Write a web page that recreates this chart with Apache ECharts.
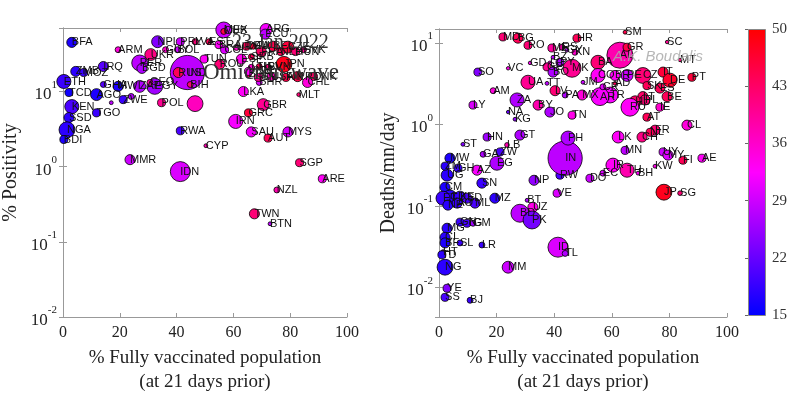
<!DOCTYPE html>
<html>
<head>
<meta charset="utf-8">
<script src="https://cdn.jsdelivr.net/npm/echarts@6/dist/echarts.min.js"></script>
<style>
html, body { margin: 0; background: #fff; }
#main { width: 811px; height: 399px; }
</style>
</head>
<body>
<div id="main"></div>
<script>
// left panel: test positivity vs vaccination
const posNames = ['BFA','ARM','IRQ','ZMB','MOZ','ETH','TCD','AGO','KEN','SSD','TGO','NGA','BDI','GHA','MWI','ZWE','','','ZAF','EGY',
  'POL','','PER','BGD','NPL','UKR','GUY','BOL','PRY','LVA','EST','IND','RUS','BIH','TUN','MEX','CUB','ARG','ECU','BRA',
  'COL','URY','DEU','ITA','FRA','BEL','NLD','CZE','HUN','SVK','ESP','SRB','HRV','SVN','LTU','JPN','PRT','DNK','CHL','BHR',
  'LKA','MLT','ROU','ISR','BGR','FIN','USA','VNM','GBR','GRC','IRN','SAU','MYS','AUT','CYP','RWA','MMR','IDN','SGP','ARE',
  'NZL','TWN','BTN','GEO'];
const posVax = [3.1,19.4,14.2,4.5,7.3,0.3,2.1,11.8,3.1,2.1,11.8,1.4,0.3,14.2,19.4,21.2,17,24,27,32.3,
  34.7,46.5,27,27.8,33.3,30.9,36.1,40.3,41.3,46.5,51.4,43.8,40.6,44.8,49.7,56.6,56.6,71.5,71.2,54.9,
  56.9,61.1,64.6,67,69.8,74,76.7,79.2,81.9,84.7,62.8,66.3,69.1,72.2,66.3,77.8,82.6,88.2,86.1,69.1,
  63.5,83,55.2,68.8,65.3,78.5,73.3,65.3,70.5,65.3,60.8,66.3,79.2,72.2,50.3,41.3,23.6,41.3,83.3,91.3,
  75.3,67.4,72.9,30.6];
const posRate = [45,36,21.5,18.5,17.9,13.6,9.7,9.1,6.3,4.5,5.2,3.1,2.3,12.4,11.7,7.8,7.1,8.6,11.7,11.7,
  7.1,6.9,24,20.3,46,31,36,36,46,46,46,17.9,17.9,12.4,27,66,63,67,58,42,
  36,38.6,40,40,34,40,34,39,34,36,27,29,21.5,21,21,23,15.8,15.8,13.2,13.2,
  10,9.1,23,15.4,16.9,15.4,15.8,18.5,6.7,5.2,4.0,2.9,2.9,2.4,1.9,3.0,1.24,0.86,1.13,0.69,
  0.49,0.236,0.174,13.2];
const posAge = [17,35,21,18,19,19,16,17,20,18,19,18,17,21,17,19,28,27,27,26,
  40,37,28,27,24,41,36,29,29,42,44,28,44,42,33,29,45,32,28,33,
  30,36,44,46,43,45,44,46,42,40,34,44,44,42,36,48,45,43,35,30,
  33,42,42,40,44,45,37,33,40,46,32,32,30,44,38,20,29,30,42,33,
  38,42,28,38];
const posPop = [70,12,70,70,35,170,35,110,170,70,35,230,35,12,70,35,1,12,110,230,
  35,230,230,70,110,110,12,12,35,12,12,1350,70,12,35,230,12,110,70,35,
  35,12,35,12,70,70,35,110,35,12,70,12,12,12,12,230,70,35,70,12,
  70,1,70,35,12,35,35,35,110,35,170,70,70,35,1,35,70,400,35,35,
  12,70,1,12];

// right panel: deaths vs vaccination
const dthNames = ['MD','BG','RO','HR','ME','RS','GY','KN','BZ','LC','PY','GE','BO','MK','JM','BA','CO','AL','GR','PE',
  'BR','AD','SM','SC','MT','PT','CZ','IT','DE','ES','SK','BE','LT','HU','PL','RU','TR','AR','CR','IE',
  'AT','FR','NL','CH','LK','CL','MN','UY','MY','FI','AE','KW','IR','TH','BH','EC','DO','RW','NP','VE',
  'JP','SG','IN','PH','GT','HN','ST','LB','ZW','GA','EG','AZ','SN','MW','UG','ZM','GH','CM','CD','ET',
  'KE','SD','ML','NE','AO','MZ','BT','UZ','BD','PK','GN','TG','GM','MG','CI','BF','SL','LR','HT','TD',
  'NG','MM','ID','TL','YE','SS','BJ','SO','LY','AM','ZA','NA','KG','UA','VC','GD','BY','JO','LV','TT',
  'PA','MX','TN'];
const dthVax = [22.2,27.4,30.9,47.9,39.2,42.7,44.4,47.2,39.6,38.5,42,37.5,39.6,46.2,50,55.2,55.2,62.8,65.3,65.3,
  61.1,61.1,64.6,79.2,83.7,87.8,70.8,77.8,80.2,76.7,72.2,79.2,70.8,68.1,71.5,66.3,59.4,55.9,56.9,76.7,
  72.2,75,73.3,70.5,62.2,86.1,64.6,77.8,79.5,84.7,91.3,75,60.4,65.3,69.1,56.9,52.4,42,33,41,
  78.1,83.7,43.8,44.8,28.1,16.7,8.3,23.6,21.2,15.3,20.1,13.2,14.9,3.8,2.8,2.1,6.6,2.1,3.8,1.4,
  7.3,9.7,12.5,3.1,6.3,19.4,30.6,32.6,28.1,32.3,7.3,9.7,11.8,2.8,2.1,2.1,7.3,14.9,1.4,1,
  2.1,24,41.3,43.8,2.8,2.1,10.8,13.5,11.8,18.8,27.1,24,26.4,30.9,24,31.6,34.4,38.5,40.3,37.5,
  43.8,49.7,46.2];
const dthRate = [11.9,11.5,9.4,11.5,8.7,8.9,8.2,7.7,6.7,5.7,5.8,5.1,4.4,4.9,3.3,5.8,4.0,7.1,8.9,4.0,
  4.0,3.2,13.6,10.3,6.2,3.8,4.0,4.4,3.5,2.8,3.0,2.2,2.2,1.9,2.0,1.63,2.3,2.2,2.9,1.63,
  1.23,0.85,0.8,0.7,0.7,0.98,0.48,0.46,0.42,0.364,0.385,0.307,0.316,0.274,0.252,0.252,0.218,0.238,0.206,0.143,
  0.147,0.143,0.385,0.68,0.74,0.7,0.57,0.56,0.46,0.43,0.334,0.274,0.19,0.385,0.238,0.307,0.29,0.169,0.128,0.124,
  0.128,0.124,0.108,0.102,0.108,0.124,0.117,0.096,0.081,0.067,0.063,0.061,0.061,0.053,0.041,0.035,0.035,0.033,0.027,0.025,
  0.0176,0.0176,0.031,0.026,0.0097,0.0075,0.0069,4.4,1.73,2.6,2.0,1.42,1.16,3.3,4.9,5.7,1.73,1.42,2.6,3.2,
  2.3,2.3,1.3];
const dthAge = [42,44,42,44,39,38,28,36,28,33,27,40,27,40,29,42,33,38,45,29,
  33,44,45,40,42,46,42,46,47,44,44,44,43,43,42,33,32,32,31,36,
  44,42,44,41,33,35,28,29,30,44,33,34,33,38,33,30,29,20,25,30,
  48,42,28,27,27,26,24,38,20,27,27,32,19,17,18,18,19,17,18,19,
  19,20,20,18,19,18,27,34,28,23,19,20,26,18,18,17,19,19,26,18,
  18,29,30,27,24,20,19,24,30,35,27,22,25,40,34,33,38,27,42,28,
  27,35,34];
const dthPop = [35,70,35,35,35,12,1,12,1,1,35,35,70,310,1,170,170,730,35,110,
  70,1,1,0.3,0.3,35,230,70,170,70,35,70,70,110,70,310,230,310,12,35,
  35,70,35,70,110,70,35,35,70,35,35,1,170,170,1,12,35,35,70,35,
  230,4,1350,170,70,35,1,4,35,12,170,70,70,70,110,35,35,70,170,170,
  110,70,70,70,70,70,1,70,310,310,35,35,12,70,70,70,12,12,4,35,
  230,110,400,12,35,35,12,35,35,12,170,0.3,1,170,0.3,0.3,70,70,70,1,
  12,70,35];

// colour bar ticks
const barTicks = [15, 22, 29, 36, 43, 50];

function rows(names, vax, rate, age, pop) {
  return names.map((n, i) => [vax[i], rate[i], age[i], pop[i], n]);
}

const serif = 'Liberation Serif';
const frame = '#999';

function logLabel(v) {
  const l = Math.log10(v);
  const e = Math.round(l);
  if (Math.abs(l - e) > 1e-6) return '';
  return '{b|10}{s|' + e + '}';
}
const logRich = {
  b: { fontFamily: serif, fontSize: 17, color: '#222', lineHeight: 24, verticalAlign: 'bottom' },
  s: { fontFamily: serif, fontSize: 11, color: '#222', verticalAlign: 'top' }
};

function xMain(grid) {
  return {
    type: 'value', gridIndex: grid, min: 0, max: 100, interval: 20, position: 'bottom',
    name: '% Fully vaccinated population\n(at 21 days prior)',
    nameLocation: 'middle', nameGap: 28,
    nameTextStyle: { fontFamily: serif, fontSize: 19, color: '#222', lineHeight: 24 },
    axisLine: { lineStyle: { color: frame } },
    axisTick: { inside: true, length: 4, lineStyle: { color: frame } },
    axisLabel: { fontFamily: serif, fontSize: 16, color: '#222', margin: 8 },
    splitLine: { show: false }
  };
}
function xMirror(grid) {
  return {
    type: 'value', gridIndex: grid, min: 0, max: 100, interval: 20, position: 'top',
    axisLine: { lineStyle: { color: frame } },
    axisTick: { inside: true, length: 4, lineStyle: { color: frame } },
    axisLabel: { show: false }, splitLine: { show: false }
  };
}
function yMain(grid, min, max, name, gap) {
  return {
    type: 'log', logBase: 10, gridIndex: grid, min: min, max: max, position: 'left',
    name: name, nameLocation: 'middle', nameGap: gap,
    nameTextStyle: { fontFamily: serif, fontSize: 20, color: '#222' },
    axisLine: { show: true, lineStyle: { color: frame } },
    axisTick: { inside: true, length: 4, lineStyle: { color: frame } },
    axisLabel: { formatter: logLabel, rich: logRich, margin: 6 },
    splitLine: { show: false }
  };
}
function yMirror(grid, min, max) {
  return {
    type: 'log', logBase: 10, gridIndex: grid, min: min, max: max, position: 'right',
    axisLine: { show: true, lineStyle: { color: frame } },
    axisTick: { inside: true, length: 4, lineStyle: { color: frame } },
    axisLabel: { show: false }, splitLine: { show: false }
  };
}

function bubbles(data, xi, yi) {
  return {
    type: 'scatter', xAxisIndex: xi, yAxisIndex: yi, data: data,
    symbolSize: v => 3 + 0.85 * Math.sqrt(v[3]),
    itemStyle: { borderColor: '#000', borderWidth: 0.8, opacity: 1 },
    label: {
      show: true, position: 'inside', align: 'left',
      formatter: p => p.data[4],
      fontFamily: 'Liberation Sans', fontSize: 11, color: '#111'
    },
    emphasis: { disabled: true },
    clip: true
  };
}

const chart = echarts.init(document.getElementById('main'));
chart.setOption({
  animation: false,
  backgroundColor: '#fff',
  grid: [
    { left: 59, top: 28, width: 288, height: 289 },
    { left: 439, top: 29, width: 288, height: 288 },
    { left: 748, top: 29, width: 17, height: 286 }
  ],
  xAxis: [
    xMain(0), xMirror(0), xMain(1), xMirror(1),
    { type: 'value', gridIndex: 2, show: false, min: 0, max: 1 }
  ],
  yAxis: [
    yMain(0, 0.01, 70, '% Positivity', 42),
    yMirror(0, 0.01, 70),
    yMain(1, 0.0043, 14.9, 'Deaths/mn/day', 40),
    yMirror(1, 0.0043, 14.9),
    {
      type: 'value', gridIndex: 2, position: 'right', min: barTicks[0], max: barTicks[barTicks.length - 1], interval: 7,
      axisLine: { show: false },
      axisTick: { inside: true, length: 3, lineStyle: { color: '#666' } },
      axisLabel: { fontFamily: serif, fontSize: 15, color: '#333', margin: 7 },
      splitLine: { show: false }
    }
  ],
  visualMap: {
    type: 'continuous', show: false, min: 15, max: 50, dimension: 2, seriesIndex: [0, 1],
    inRange: { color: ['#0000ff', '#ff00ff', '#ff0000'] }
  },
  graphic: [
    {
      type: 'rect', left: 748, top: 29, z: 0,
      shape: { width: 17, height: 286 },
      style: {
        fill: new echarts.graphic.LinearGradient(0, 0, 0, 1, [
          { offset: 0, color: '#ff0000' }, { offset: 0.5, color: '#ff00ff' }, { offset: 1, color: '#0000ff' }
        ]),
        stroke: '#888', lineWidth: 1
      }
    },
    {
      type: 'text', left: 232, top: 33, z: 10,
      style: { text: '23 Jan 2022', font: '20px "Liberation Serif"', fill: '#333' }
    },
    {
      type: 'text', left: 203, top: 61, z: 10,
      style: { text: 'Omicron wave', font: '23px "Liberation Serif"', fill: '#333' }
    },
    {
      type: 'text', left: 613, top: 49, z: 10,
      style: { text: 'A.K. Boudalis', font: 'italic 15px "Liberation Sans"', fill: 'rgba(170,170,170,0.85)' }
    }
  ],
  series: [
    bubbles(rows(posNames, posVax, posRate, posAge, posPop), 0, 0),
    bubbles(rows(dthNames, dthVax, dthRate, dthAge, dthPop), 2, 2)
  ]
});
</script>
</body>
</html>
